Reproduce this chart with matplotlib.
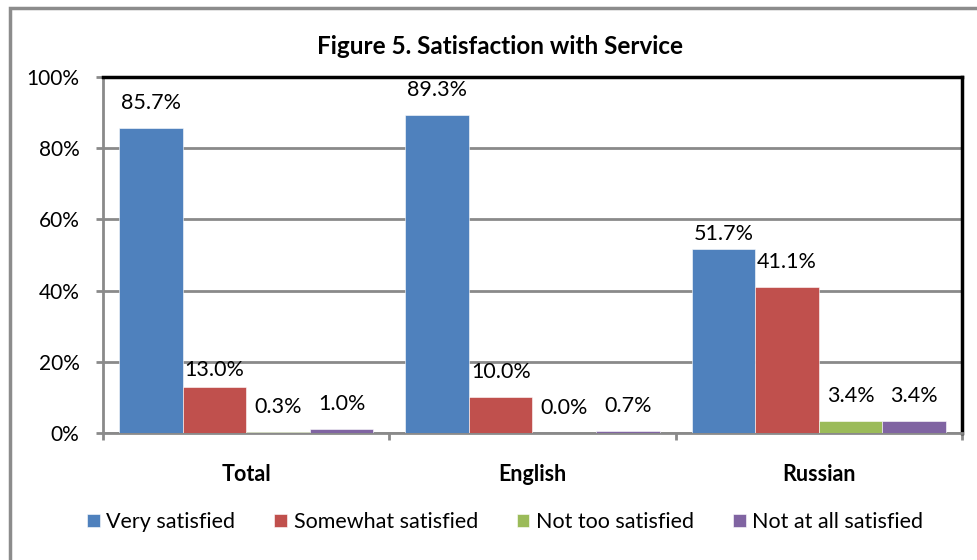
import numpy as np
import matplotlib

matplotlib.use("Agg")
import matplotlib.pyplot as plt
from matplotlib.patches import Rectangle

# -----------------------------
# Data
# -----------------------------
groups = ["Total", "English", "Russian"]
series = ["Very satisfied", "Somewhat satisfied", "Not too satisfied", "Not at all satisfied"]
very_satisfied = [85.7, 89.3, 51.7]
somewhat_satisfied = [13.0, 10.0, 41.1]
not_too_satisfied = [0.3, 0.0, 3.4]
not_at_all_satisfied = [1.0, 0.7, 3.4]
values = [very_satisfied, somewhat_satisfied, not_too_satisfied, not_at_all_satisfied]
colors = ["#4F81BD", "#C0504D", "#9BBB59", "#8064A2"]
yticks = [0, 20, 40, 60, 80, 100]

plt.rcParams["font.family"] = ["Lato", "DejaVu Sans"]

# labels that sit a little closer to their bar (series, group) -> offset in points
label_offsets = {(0, 2): 11, (1, 0): 12}

fig = plt.figure(figsize=(9.78, 5.6), dpi=100)
ax = fig.add_axes([103 / 978, 1 - 433 / 560, 859 / 978, 356 / 560])

# outer chart border
fig.patches.append(Rectangle((10 / 978, -0.05), 1.2, 1 - 8 / 560 + 0.05,
                             transform=fig.transFigure, fill=False,
                             edgecolor="#8c8c8c", linewidth=2.5))

# -----------------------------
# Bars
# -----------------------------
width = 0.222
x = np.arange(len(groups)) + 0.5
for i, (vals, color) in enumerate(zip(values, colors)):
    pos = x + (i - 1.5) * width
    ax.bar(pos, vals, width, color=color, edgecolor="white", linewidth=0.4,
           label=series[i], zorder=3)
    for j, (px, v) in enumerate(zip(pos, vals)):
        dy = label_offsets.get((i, j), 18)
        ax.annotate(f"{v:.1f}%", (px, v), xytext=(0, dy), textcoords="offset points",
                    ha="center", va="center", fontsize=15.5)

# -----------------------------
# Axes styling
# -----------------------------
ax.set_xlim(0, 3)
ax.set_ylim(0, 100)
ax.set_yticks(yticks)
ax.set_yticklabels([f"{t}%" for t in yticks], fontsize=15)
ax.yaxis.grid(True, color="#8a8a8a", linewidth=2, zorder=0)

ax.set_xticks(x)
ax.set_xticklabels(groups, fontsize=15.5, fontweight="bold")
ax.set_xticks([0, 1, 2, 3], minor=True)
ax.tick_params(axis="x", which="major", length=0, pad=22)
ax.tick_params(axis="x", which="minor", length=5, width=2, color="#8a8a8a", direction="out")
ax.tick_params(axis="y", length=5, width=2, color="#8a8a8a", pad=12)

for side in ["left", "bottom"]:
    ax.spines[side].set_color("#8a8a8a")
    ax.spines[side].set_linewidth(2)
for side in ["top", "right"]:
    ax.spines[side].set_color("black")
    ax.spines[side].set_linewidth(2.5)

fig.text(500 / 978, 1 - 46 / 560, "Figure 5. Satisfaction with Service",
         ha="center", va="center", fontsize=17.5, fontweight="bold")

fig.legend(loc="center", bbox_to_anchor=(505 / 978, 1 - 522 / 560), ncol=4,
           frameon=False, fontsize=15.5, handlelength=0.6, handleheight=0.6,
           handletextpad=0.3, columnspacing=1.8)

plt.savefig("out.png", dpi=100)
plt.close()
